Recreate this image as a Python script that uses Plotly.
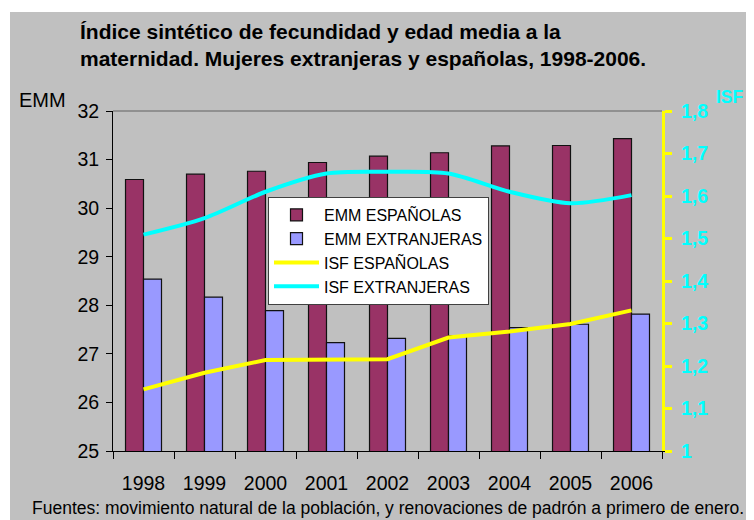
import plotly.graph_objects as go

years = ["1998", "1999", "2000", "2001", "2002", "2003", "2004", "2005", "2006"]
emm_espanolas = [30.59, 30.70, 30.76, 30.94, 31.07, 31.14, 31.28, 31.29, 31.43]
emm_extranjeras = [28.54, 28.17, 27.89, 27.23, 27.32, 27.37, 27.54, 27.61, 27.82]
isf_espanolas = [1.145, 1.184, 1.214, 1.215, 1.216, 1.267, 1.281, 1.299, 1.331]
isf_extranjeras = [1.509, 1.548, 1.610, 1.653, 1.657, 1.653, 1.610, 1.583, 1.602]

xpos = list(range(len(years)))
bounds = [i + 0.5 for i in range(-1, len(years))]

FONT = "Liberation Sans"
GRAY = "#C0C0C0"

# plot area in reference pixels: x 113..662, y 111..451 (page has 8px body margin)
def px(x):
    return (x - 113) / 549

def py(y):
    return (451 - y) / 340

fig = go.Figure()
fig.add_trace(go.Bar(x=xpos, y=emm_espanolas, name="EMM ESPAÑOLAS",
                     marker=dict(color="#993366", line=dict(color="#111111", width=1.2)),
                     legendgroup="a", yaxis="y"))
fig.add_trace(go.Bar(x=xpos, y=emm_extranjeras, name="EMM EXTRANJERAS",
                     marker=dict(color="#9999FF", line=dict(color="#111111", width=1.2)),
                     legendgroup="b", yaxis="y"))
fig.add_trace(go.Scatter(x=xpos, y=isf_espanolas, name="ISF ESPAÑOLAS", mode="lines",
                         line=dict(color="#FFFF00", width=4), legendgroup="c", yaxis="y2"))
fig.add_trace(go.Scatter(x=xpos, y=isf_extranjeras, name="ISF EXTRANJERAS", mode="lines",
                         line=dict(color="#00FFFF", width=4, shape="spline", smoothing=0.8),
                         legendgroup="d", yaxis="y2"))

fig.update_layout(
    width=746, height=512,
    margin=dict(l=105, r=92, t=103, b=69, autoexpand=False),
    paper_bgcolor="white", plot_bgcolor=GRAY,
    separators=",.",
    barmode="group", bargap=0.41, bargroupgap=0,
    font=dict(family=FONT, size=19, color="black"),
    showlegend=True,
    legend=dict(x=px(268), y=py(197), xanchor="left", yanchor="top",
                bgcolor="white", bordercolor="#404040", borderwidth=1,
                font=dict(size=16, family=FONT), tracegroupgap=6,
                itemwidth=45, traceorder="normal"),
    xaxis=dict(range=[-0.5, 8.5], tickvals=xpos, ticktext=years, ticks="",
               showline=True, linecolor="black", linewidth=1, showgrid=False,
               zeroline=False, tickfont=dict(size=19.5), ticklabelstandoff=15,
               minor=dict(tickvals=bounds, ticks="outside", ticklen=7, tickcolor="black", tickwidth=1)),
    xaxis2=dict(range=[-0.5, 8.5], overlaying="x", anchor="y", side="bottom",
                tickvals=bounds, ticks="inside", ticklen=7, tickcolor="black",
                showticklabels=False, showgrid=False, zeroline=False, showline=False),
    yaxis=dict(range=[25, 32], dtick=1, ticks="outside", ticklen=6, tickcolor="black",
               showline=True, linecolor="black", linewidth=1, showgrid=False, zeroline=False,
               tickfont=dict(size=19.5), ticklabelstandoff=3),
    yaxis3=dict(range=[25, 32], dtick=1, overlaying="y", side="left", anchor="x",
                ticks="inside", ticklen=6, tickcolor="black", showticklabels=False,
                showgrid=False, zeroline=False, showline=False),
    yaxis2=dict(range=[1, 1.8], dtick=0.1, overlaying="y", side="right", anchor="x",
                ticks="outside", ticklen=7, tickwidth=3, tickcolor="#FFFF00",
                showline=True, linecolor="#FFFF00", linewidth=3, showgrid=False, zeroline=False,
                tickfont=dict(size=19.5, color="#00FFFF", family=FONT, weight="bold"),
                ticklabelstandoff=5),
    yaxis4=dict(range=[1, 1.8], dtick=0.1, overlaying="y", side="right", anchor="x",
                ticks="inside", ticklen=7, tickwidth=3, tickcolor="#FFFF00",
                showticklabels=False, showgrid=False, zeroline=False, showline=False),
    shapes=[
        dict(type="rect", xref="paper", yref="paper", x0=px(10), x1=px(760), y0=py(530), y1=py(12),
             fillcolor=GRAY, line=dict(width=0), layer="below"),
        dict(type="line", xref="paper", yref="paper", x0=0, x1=1, y0=1, y1=1,
             line=dict(color="#808080", width=1.5)),
    ],
    annotations=[
        dict(text="<b>Índice sintético de fecundidad y edad media a la<br>maternidad. Mujeres extranjeras y españolas, 1998-2006.</b>",
             xref="paper", yref="paper", x=px(78), y=py(18),
             xanchor="left", yanchor="top", align="left", showarrow=False,
             font=dict(size=21, family=FONT, color="black")),
        dict(text="EMM", xref="paper", yref="paper", x=px(42), y=py(100),
             xanchor="center", yanchor="middle", showarrow=False, font=dict(size=20)),
        dict(text="<b>ISF</b>", xref="paper", yref="paper", x=px(730), y=py(97),
             xanchor="center", yanchor="middle", showarrow=False,
             font=dict(size=17.5, color="#00FFFF")),
        dict(text="Fuentes: movimiento natural de la población, y renovaciones de padrón a primero de enero.",
             xref="paper", yref="paper", x=px(388), y=py(508),
             xanchor="center", yanchor="middle", showarrow=False, font=dict(size=17.5)),
    ],
)

fig.write_html("out.html")
